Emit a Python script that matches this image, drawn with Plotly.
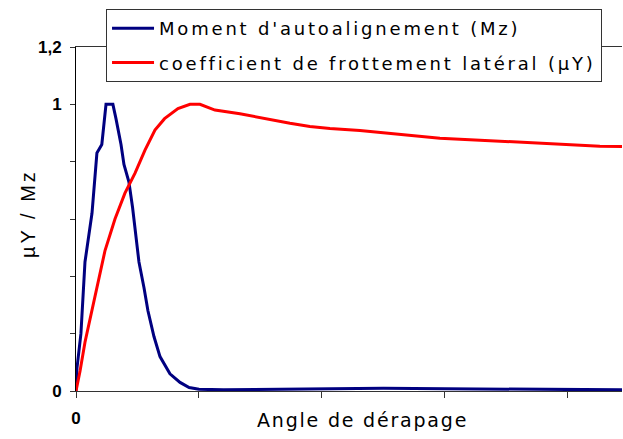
import plotly.graph_objects as go

# Mz (self-aligning moment), normalised
mz_x = [0.0, 0.008, 0.04, 0.073, 0.13, 0.17, 0.21, 0.244, 0.276, 0.3, 0.325, 0.35, 0.366, 0.39, 0.43, 0.46, 0.49, 0.512,
        0.553, 0.585, 0.634, 0.683, 0.764, 0.846, 0.92, 1.0, 1.2, 1.6, 2.0, 2.5, 3.0, 3.5, 4.0, 4.44]
mz_y = [0.0, 0.08, 0.2, 0.45, 0.62, 0.83, 0.86, 1.0, 1.0, 1.0, 0.95, 0.9, 0.86, 0.79, 0.73, 0.64, 0.54, 0.45,
        0.36, 0.28, 0.19, 0.12, 0.06, 0.03, 0.012, 0.006, 0.004, 0.006, 0.01, 0.01, 0.008, 0.006, 0.004, 0.004]

# muY (lateral friction coefficient), normalised
mu_x = [0.0, 0.033, 0.073, 0.154, 0.236, 0.317, 0.398, 0.48, 0.561, 0.642, 0.72, 0.829, 0.927, 1.008, 1.13, 1.333,
        1.537, 1.74, 1.902, 2.065, 2.309, 2.634, 2.959, 3.285, 3.61, 3.935, 4.26, 4.44]
mu_y = [0.0, 0.07, 0.17, 0.33, 0.49, 0.6, 0.69, 0.76, 0.84, 0.91, 0.95, 0.985, 1.0, 1.0, 0.98, 0.967,
        0.95, 0.934, 0.923, 0.916, 0.909, 0.895, 0.882, 0.875, 0.868, 0.861, 0.854, 0.853]

y_ticks = [0, 0.2, 0.4, 0.6, 0.8, 1.0, 1.2]
y_labels = ["0", "", "", "", "", "1", "1,2"]
x_ticks = [0, 1, 2, 3, 4]
x_labels = ["0", "", "", "", ""]

name_mz = "Moment d'autoalignement (Mz)"
name_mu = "coefficient de frottement latéral (µY)"
x_title = "Angle de dérapage"
y_title = "µY / Mz"


def spaced(t, px):
    return '<span style="letter-spacing:%spx">%s</span>' % (px, t)


fig = go.Figure()
fig.add_trace(go.Scatter(x=mz_x, y=mz_y, mode="lines", name=spaced(name_mz, 2.8), legendgroup="a",
                         line=dict(color="#000080", width=3)))
fig.add_trace(go.Scatter(x=mu_x, y=mu_y, mode="lines", name=spaced(name_mu, 2.8), legendgroup="b",
                         line=dict(color="#FF0000", width=3)))

axis_font = dict(family="Liberation Sans, Arial", size=17, color="black", weight="bold")
fig.update_layout(
    width=623, height=439,
    margin=dict(l=76, r=1, t=47, b=48, autoexpand=False),
    paper_bgcolor="white", plot_bgcolor="white",
    showlegend=True,
    legend=dict(x=0.055, y=1.1105, xanchor="left", yanchor="top",
                bgcolor="white", bordercolor="#333333", borderwidth=1,
                font=dict(family="DejaVu Sans", size=18, color="black"),
                itemwidth=42, tracegroupgap=8),
    xaxis=dict(range=[0, 4.44], tickvals=x_ticks, ticktext=x_labels, ticks="outside", ticklen=6,
               tickcolor="#333333", showline=True, linecolor="#333333", linewidth=1, mirror=True,
               showgrid=False, zeroline=False, tickfont=axis_font, automargin=False, ticklabelstandoff=6),
    yaxis=dict(range=[0, 1.2], tickvals=y_ticks, ticktext=y_labels, ticks="outside", ticklen=5,
               tickcolor="#333333", showline=True, linecolor="black", linewidth=1,
               showgrid=False, zeroline=False, tickfont=axis_font, automargin=False, ticklabelstandoff=5),
    annotations=[
        dict(text=spaced(x_title, 1.8), xref="paper", yref="paper", x=0.5256, y=-0.0843,
             xanchor="center", yanchor="middle", showarrow=False,
             font=dict(family="DejaVu Sans", size=19, color="black")),
        dict(text=spaced(y_title, 3), xref="paper", yref="paper", x=-0.0879, y=0.5145, textangle=-90,
             xanchor="center", yanchor="middle", showarrow=False,
             font=dict(family="Liberation Sans, Arial", size=20, color="black")),
    ],
)
fig.write_html("out.html", config={"displayModeBar": False},
               post_script="document.body.style.margin='0';document.body.style.overflow='hidden';")
